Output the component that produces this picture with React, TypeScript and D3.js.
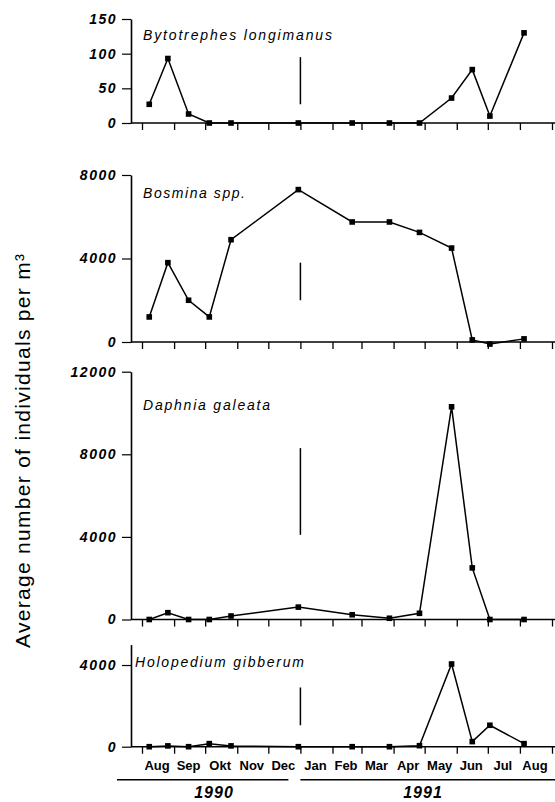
import React, { useEffect, useRef } from "react";
import * as d3 from "d3";

// sampling dates (same for all four species)
const sampleDates = [
  "1990-08-08", "1990-08-26", "1990-09-15", "1990-10-05", "1990-10-26",
  "1990-12-30", "1991-02-20", "1991-03-28", "1991-04-26", "1991-05-27",
  "1991-06-16", "1991-07-03", "1991-08-05",
];

const species = ["Bytotrephes longimanus", "Bosmina spp.", "Daphnia galeata", "Holopedium gibberum"];

const bytotrephes = [27, 93, 13, 0, 0, 0, 0, 0, 0, 36, 77, 10, 130];
const bosmina = [1200, 3800, 2000, 1200, 4900, 7300, 5750, 5750, 5250, 4500, 100, -100, 150];
const daphnia = [0, 330, 0, 0, 170, 600, 230, 60, 300, 10300, 2500, 0, 0];
const holopedium = [0, 40, 0, 150, 40, 0, 0, 0, 50, 4050, 250, 1050, 150];

const yMax = [150, 8000, 12000, 5000];
const yTicks = [[0, 50, 100, 150], [0, 4000, 8000], [0, 4000, 8000, 12000], [0, 4000]];
// the short vertical bar at the turn of the year, in data units
const yearBar = [[27, 95], [2000, 3800], [4100, 8300], [1050, 2900]];

const monthLabels = ["Aug", "Sep", "Okt", "Nov", "Dec", "Jan", "Feb", "Mar", "Apr", "May", "Jun", "Jul", "Aug"];
const years = ["1990", "1991"];

const W = 555;
const H = 802;
const axisX = 131;
// panel pixel extents [top, bottom]
const panelBox = [[19, 123], [175, 342], [371.7, 619.5], [644.6, 746.7]];
const font = "Liberation Sans, Arial, sans-serif";

export default function App() {
  const ref = useRef<SVGSVGElement>(null);

  useEffect(() => {
    const svg = d3.select(ref.current);
    svg.selectAll("*").remove();

    const parse = d3.timeParse("%Y-%m-%d");
    const dates = sampleDates.map((d) => parse(d) as Date);
    const start = new Date(1990, 7, 1);
    const end = new Date(1991, 8, 1);
    const x = d3.scaleTime().domain([start, end]).range([142, 552]);
    const months = d3.timeMonth.range(start, d3.timeDay.offset(end, 1));
    const allValues = [bytotrephes, bosmina, daphnia, holopedium];

    allValues.forEach((vals, i) => {
      const [top, bottom] = panelBox[i];
      const y = d3.scaleLinear().domain([0, yMax[i]]).range([bottom, top]);
      const g = svg.append("g");

      // y axis
      const ya = g.append("g").attr("transform", `translate(${axisX},0)`)
        .call(d3.axisLeft(y).tickValues(yTicks[i]).tickFormat(d3.format("d"))
          .tickSize(9).tickSizeOuter(0).tickPadding(5));
      ya.select(".domain").attr("stroke", "#000").attr("stroke-width", 1.6);
      ya.selectAll(".tick line").attr("stroke", "#000").attr("stroke-width", 1.2);
      ya.selectAll(".tick text")
        .attr("font-family", font)
        .attr("font-size", 14)
        .attr("letter-spacing", 1.5)
        .attr("font-style", "italic")
        .attr("font-weight", "bold")
        .attr("fill", "#000");

      // x axis
      const xa = g.append("g").attr("transform", `translate(0,${bottom})`)
        .call(d3.axisBottom(x).tickValues(months).tickSize(7).tickFormat(() => ""));
      xa.select(".domain").remove();
      xa.selectAll(".tick line").attr("stroke", "#000").attr("stroke-width", 1.3);
      g.append("line")
        .attr("x1", axisX).attr("x2", W)
        .attr("y1", bottom).attr("y2", bottom)
        .attr("stroke", "#000").attr("stroke-width", 1.5);

      // year separator bar
      g.append("line")
        .attr("x1", x(new Date(1991, 0, 1))).attr("x2", x(new Date(1991, 0, 1)))
        .attr("y1", y(yearBar[i][0])).attr("y2", y(yearBar[i][1]))
        .attr("stroke", "#000").attr("stroke-width", 1.5);

      // data
      const line = d3.line<number>().x((_, j) => x(dates[j])).y((d) => y(d));
      g.append("path").datum(vals).attr("d", line)
        .attr("fill", "none").attr("stroke", "#000").attr("stroke-width", 1.5);
      g.selectAll("rect.pt").data(vals).enter().append("rect")
        .attr("x", (_, j) => x(dates[j]) - 2.8)
        .attr("y", (d) => y(d) - 2.8)
        .attr("width", 5.6).attr("height", 5.6)
        .attr("fill", "#000");

      // species name
      const nameLen = [189, 102, 127, 169][i];
      g.append("text")
        .attr("x", i === 3 ? 135 : 143)
        .attr("y", top + [21, 23, 38, 22][i])
        .attr("textLength", nameLen)
        .attr("lengthAdjust", "spacing")
        .attr("font-family", font)
        .attr("font-size", 14)
        .attr("font-style", "italic")
        .attr("fill", "#000")
        .text(species[i]);
    });

    // month labels under the last panel
    const base = panelBox[3][1];
    svg.append("g").selectAll("text").data(monthLabels).enter().append("text")
      .attr("x", (_, j) => (x(months[j]) + x(months[j + 1])) / 2 - 1)
      .attr("y", base + 23)
      .attr("text-anchor", "middle")
      .attr("font-family", font)
      .attr("font-size", 13)
      .attr("font-weight", "bold")
      .attr("fill", "#000")
      .text((d) => d);

    // year rules and labels
    const jan = x(new Date(1991, 0, 1));
    svg.append("line").attr("x1", 117).attr("x2", jan - 12).attr("y1", base + 33).attr("y2", base + 33)
      .attr("stroke", "#000").attr("stroke-width", 1.5);
    svg.append("line").attr("x1", jan).attr("x2", W).attr("y1", base + 33).attr("y2", base + 33)
      .attr("stroke", "#000").attr("stroke-width", 1.5);
    svg.append("g").selectAll("text").data(years).enter().append("text")
      .attr("x", (_, j) => [214, 423][j])
      .attr("y", H - 4)
      .attr("text-anchor", "middle")
      .attr("font-family", font)
      .attr("font-size", 16)
      .attr("letter-spacing", 1)
      .attr("font-style", "italic")
      .attr("font-weight", "bold")
      .attr("fill", "#000")
      .text((d) => d);

    // y title
    svg.append("text")
      .attr("transform", "translate(30,648) rotate(-90)")
      .attr("x", 0).attr("y", 0)
      .attr("textLength", 394)
      .attr("lengthAdjust", "spacing")
      .attr("font-family", font)
      .attr("font-size", 21)
      .attr("fill", "#000")
      .text("Average number of individuals per m³");
  }, []);

  return (
    <svg ref={ref} width={W} height={H}
      style={{ position: "absolute", left: 0, top: 0, background: "#fff" }} />
  );
}
